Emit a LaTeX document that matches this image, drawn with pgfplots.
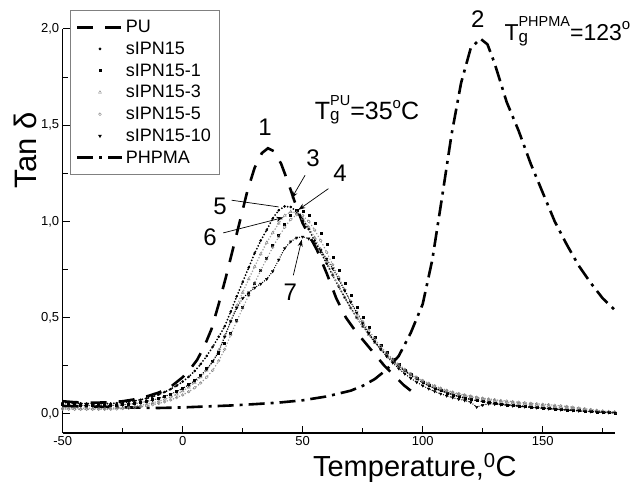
\documentclass[border=0pt]{standalone}
\usepackage{fontspec}
\setmainfont{Liberation Sans}
\usepackage{pgfplots}
\usepackage{pgfplotstable}
\pgfplotsset{compat=1.18}
\usetikzlibrary{arrows.meta}

\pgfplotstableread{
x      A     B     C     D     E
-50   .058  .050  .030  .024  .045
-47.5 .056  .049  .029  .024  .044
-45   .055  .048  .029  .023  .044
-42.5 .054  .047  .028  .023  .043
-40   .053  .046  .028  .023  .043
-37.5 .052  .046  .028  .023  .042
-35   .052  .045  .028  .023  .042
-32.5 .052  .045  .028  .023  .042
-30   .053  .046  .029  .024  .043
-27.5 .055  .047  .030  .025  .044
-25   .058  .049  .032  .027  .046
-22.5 .062  .052  .035  .029  .049
-20   .067  .056  .039  .032  .053
-17.5 .073  .061  .044  .036  .058
-15   .080  .067  .050  .041  .064
-12.5 .089  .074  .057  .047  .071
-10   .100  .082  .065  .054  .080
-7.5  .113  .092  .075  .062  .090
-5    .128  .104  .087  .072  .102
-2.5  .146  .118  .101  .084  .116
0     .167  .134  .118  .098  .132
2.5   .192  .153  .138  .115  .150
5     .222  .176  .162  .135  .172
7.5   .258  .203  .191  .160  .199
10    .300  .236  .226  .190  .232
12.5  .348  .273  .270  .226  .272
15    .400  .316  .330  .275  .320
17.5  .455  .365  .405  .335  .400
20    .530  .420  .480  .410  .480
22.5  .610  .485  .560  .480  .550
25    .685  .555  .630  .550  .600
27.5  .760  .620  .700  .615  .630
30    .835  .680  .765  .680  .655
32.5  .900  .745  .830  .745  .675
35    .955  .810  .890  .805  .700
37.5  1.015 .875  .940  .865  .740
40    1.058 .930  .990  .920  .800
42.5  1.078 .985  1.030 .970  .860
45    1.075 1.030 1.050 1.010 .895
47.5  1.050 1.058 1.045 1.035 .915
50    1.010 1.055 1.015 1.030 .920
52.5  .960  1.030 .970  1.000 .910
55    .900  .990  .915  .955  .885
57.5  .840  .940  .855  .900  .850
60    .780  .880  .790  .840  .805
62.5  .720  .815  .725  .775  .755
65    .660  .745  .665  .710  .700
67.5  .605  .680  .605  .645  .640
70    .550  .615  .550  .585  .580
72.5  .500  .555  .500  .530  .525
75    .455  .500  .455  .480  .470
77.5  .415  .450  .410  .435  .420
80    .375  .400  .370  .390  .375
82.5  .338  .358  .335  .350  .335
85    .305  .320  .302  .315  .298
87.5  .275  .286  .273  .284  .265
90    .248  .256  .247  .256  .235
92.5  .223  .229  .224  .231  .208
95    .201  .205  .203  .209  .185
97.5  .181  .184  .185  .190  .164
100   .163  .165  .168  .173  .146
102.5 .147  .148  .153  .158  .130
105   .133  .133  .140  .145  .116
107.5 .120  .120  .128  .133  .104
110   .109  .108  .117  .122  .093
112.5 .099  .098  .108  .113  .084
115   .090  .089  .100  .105  .076
117.5 .082  .081  .093  .098  .069
120   .075  .074  .087  .092  .060
122.5 .069  .068  .081  .086  .035
125   .064  .063  .076  .081  .045
127.5 .059  .058  .071  .077  .052
130   .055  .054  .067  .073  .050
132.5 .051  .050  .063  .069  .047
135   .047  .047  .059  .066  .044
137.5 .044  .044  .056  .063  .041
140   .041  .041  .053  .060  .038
142.5 .038  .038  .050  .057  .036
145   .035  .035  .047  .054  .033
147.5 .032  .032  .044  .052  .031
150   .030  .030  .041  .049  .029
152.5 .027  .027  .038  .047  .026
155   .025  .025  .036  .044  .024
157.5 .022  .022  .033  .041  .021
160   .020  .020  .030  .038  .019
162.5 .018  .018  .027  .034  .017
165   .016  .016  .024  .030  .015
167.5 .014  .014  .021  .026  .013
170   .012  .012  .018  .022  .011
172.5 .010  .010  .015  .018  .009
175   .008  .008  .012  .014  .007
177.5 .006  .006  .010  .011  .006
180   .005  .005  .008  .009  .005
}\ipn

\pgfplotstableread{
x    y
-50  .065
-45  .060
-40  .058
-35  .058
-30  .060
-25  .065
-20  .075
-15  .090
-10  .110
-5   .140
0    .190
3    .230
6    .280
9    .350
12   .440
15   .570
18   .710
21   .860
24   1.010
27   1.160
30   1.280
33   1.355
35.5 1.380
38   1.365
41   1.300
44   1.200
47   1.090
50   .990
53   .920
56   .850
60   .730
64   .600
68   .500
72   .430
76   .370
80   .310
84   .250
88   .200
92   .150
96   .110
98   .090
}\pu

\pgfplotstableread{
x    y
-50  .040
-40  .038
-30  .035
-20  .032
-10  .030
0    .033
10   .038
20   .043
30   .050
40   .058
50   .070
60   .090
70   .120
75   .145
80   .180
85   .230
90   .300
95   .420
100  .570
104  .800
108  1.120
112  1.450
116  1.720
120  1.900
124  1.950
127  1.920
130  1.820
135  1.620
140  1.470
145  1.300
150  1.150
155  1.000
160  .880
165  .770
170  .680
175  .600
180  .540
}\phpma

% T with subscript g and superscript (stacked)
\newcommand{\Tg}[1]{T\rlap{\raisebox{-1.5pt}{\fontsize{17}{17}\selectfont g}}\raisebox{14pt}{\fontsize{14.5}{15}\selectfont #1}}
\newcommand{\degsup}{\raisebox{11pt}{\fontsize{15}{15}\selectfont o}}

\begin{document}
\begin{tikzpicture}
\begin{axis}[
 scale only axis, width=552pt, height=404pt,
 xmin=-50, xmax=180, ymin=-0.1, ymax=2.0,
 axis x line*=bottom, axis y line*=left,
 axis line style={-, line width=1.1pt},
 tick align=inside, major tick length=7pt, minor tick length=5pt,
 every tick/.style={black, line width=1pt},
 xtick={-50,0,50,100,150}, minor xtick={-25,25,75,125,175},
 ytick={0,0.5,1,1.5,2}, minor ytick={0.25,0.75,1.25,1.75},
 y tick label style={/pgf/number format/.cd, use comma, fixed, fixed zerofill, precision=1, /tikz/.cd},
 /pgf/number format/assume math mode=true,
 tick label style={font=\fontsize{13}{15}\selectfont},
 xlabel={Temperature,\textsuperscript{0}C},
 ylabel={Tan δ},
 every axis x label/.style={at={(axis description cs:0.638,-0.087)}, anchor=center, font=\fontsize{29}{32}\selectfont},
 every axis y label/.style={at={(axis description cs:-0.068,0.70)}, anchor=center, rotate=90, font=\fontsize{31}{34}\selectfont},
 clip=false,
 legend style={at={(axis description cs:0.013,1.047)}, anchor=north west, draw=gray, line width=0.6pt, font=\fontsize{18}{20}\selectfont, row sep=3.8pt, inner xsep=6pt, inner ysep=8pt},
 legend cell align=left,
 legend image code/.code={\draw[mark repeat=2,mark phase=2,#1] plot coordinates {(0pt,0pt) (22.5pt,0pt) (45pt,0pt)};},
]
\coordinate (SW) at (rel axis cs:0,0);
% dense dotted traces of the marker series (not in legend)
\addplot[forget plot, black, line width=2.0pt, line cap=round, dash pattern=on 0pt off 3.2pt] table[x=x,y=A] {\ipn};
\addplot[forget plot, black, line width=1.8pt, line cap=rect, dash pattern=on 0pt off 3.4pt] table[x=x,y=B] {\ipn};
\addplot[forget plot, gray!70, line width=1.8pt, line cap=round, dash pattern=on 0pt off 3.0pt] table[x=x,y=C] {\ipn};
\addplot[forget plot, gray!85, line width=1.6pt, line cap=round, dash pattern=on 0pt off 3.2pt] table[x=x,y=D] {\ipn};
\addplot[forget plot, black, line width=1.4pt, line cap=round, dash pattern=on 0pt off 2.4pt] table[x=x,y=E] {\ipn};

\addplot[black, line width=2.6pt, dash pattern=on 16pt off 12pt] table[x=x,y=y] {\pu};
\addlegendentry{PU}
\addplot[only marks, mark=*, mark size=1.1pt, black] table[x=x,y=A] {\ipn};
\addlegendentry{sIPN15}
\addplot[only marks, mark=square*, mark size=1.0pt, black] table[x=x,y=B] {\ipn};
\addlegendentry{sIPN15-1}
\addplot[only marks, mark=triangle, mark size=1.7pt, gray, mark options={line width=0.4pt}] table[x=x,y=C] {\ipn};
\addlegendentry{sIPN15-3}
\addplot[only marks, mark=o, mark size=1.4pt, gray, mark options={line width=0.4pt}] table[x=x,y=D] {\ipn};
\addlegendentry{sIPN15-5}
\addplot[only marks, mark=triangle*, mark size=1.5pt, black, mark options={rotate=180}] table[x=x,y=E] {\ipn};
\addlegendentry{sIPN15-10}
\addplot[black, line width=2.6pt, dash pattern=on 16pt off 6pt on 3pt off 6pt] table[x=x,y=y] {\phpma};
\addlegendentry{PHPMA}

\node[font=\fontsize{24}{26}\selectfont] at (axis cs:34.3,1.49) {1};
\node[font=\fontsize{24}{26}\selectfont] at (axis cs:123,2.05) {2};
\node[font=\fontsize{24}{26}\selectfont] at (axis cs:54.3,1.33) {3};
\node[font=\fontsize{24}{26}\selectfont] at (axis cs:65.6,1.25) {4};
\node[font=\fontsize{24}{26}\selectfont] at (axis cs:15.6,1.08) {5};
\node[font=\fontsize{24}{26}\selectfont] at (axis cs:11.4,0.92) {6};
\node[font=\fontsize{24}{26}\selectfont] at (axis cs:44.8,0.63) {7};
\draw[-{Stealth[length=7pt,width=5pt]}, line width=0.7pt] (axis cs:51,1.24) -- (axis cs:45.4,1.12);
\draw[-{Stealth[length=7pt,width=5pt]}, line width=0.7pt] (axis cs:60.7,1.17) -- (axis cs:48.2,1.06);
\draw[line width=0.7pt] (axis cs:20.4,1.11) -- (axis cs:40,1.075);
\draw[-{Stealth[length=7pt,width=5pt]}, line width=0.7pt] (axis cs:16.9,0.94) -- (axis cs:41.9,1.02);
\draw[-{Stealth[length=7pt,width=5pt]}, line width=0.7pt] (axis cs:46.1,0.72) -- (axis cs:49.6,0.905);
\node[anchor=base west, font=\fontsize{25}{27}\selectfont, inner sep=0pt] at (axis cs:55,1.53) {\Tg{PU}=35\degsup C};
\node[anchor=base west, font=\fontsize{23}{25}\selectfont, inner sep=0pt] at (axis cs:134,1.94) {\Tg{PHPMA}=123\degsup};
\end{axis}
\path (SW) ++(-62.7pt,-67pt) rectangle ++(638pt,500pt);
\end{tikzpicture}
\end{document}
